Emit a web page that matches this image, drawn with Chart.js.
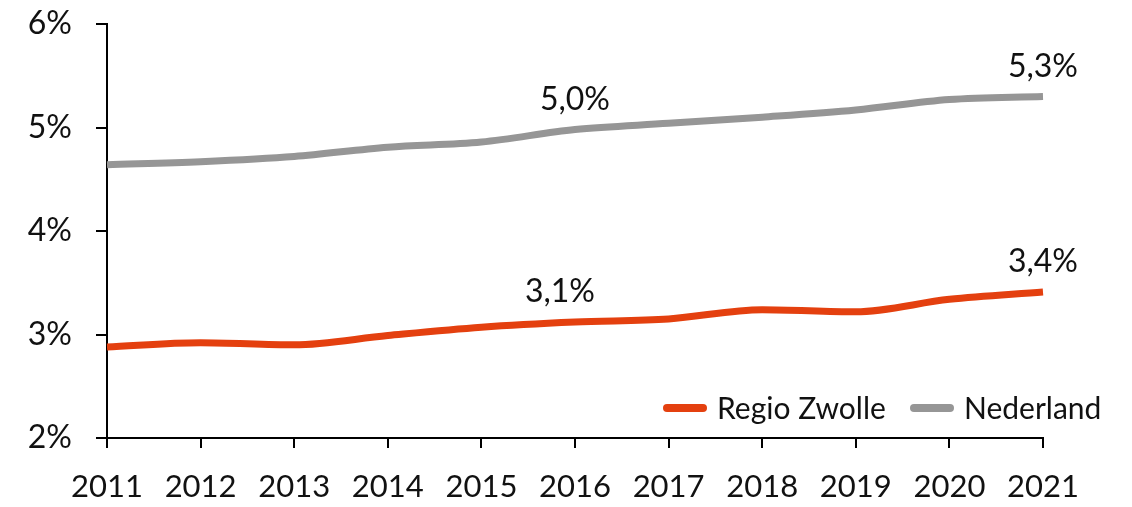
<!DOCTYPE html>
<html><head><meta charset="utf-8">
<script src="https://cdn.jsdelivr.net/npm/chart.js@4/dist/chart.umd.min.js"></script>
<style>html,body{margin:0;padding:0;background:#fff;}#wrap{width:1132px;height:507px;}</style>
</head><body><div id="wrap"><canvas id="c" width="1132" height="507"></canvas></div>
<script>
const years = ['2011','2012','2013','2014','2015','2016','2017','2018','2019','2020','2021'];
const regioZwolle = [2.88,2.92,2.90,2.99,3.07,3.12,3.15,3.24,3.22,3.34,3.41];
const nederland = [4.64,4.67,4.72,4.81,4.86,4.98,5.04,5.10,5.17,5.27,5.30];
const seriesNames = ['Regio Zwolle','Nederland'];
const seriesColors = ['#E4400F','#969696'];
const labelledIdx = [5,10];
const labelTexts = [['3,1%','3,4%'],['5,0%','5,3%']];
const FONT = 'Lato, "Open Sans", sans-serif';

const labelPlugin = {
  id:'labels',
  afterDatasetsDraw(chart){
    const ctx = chart.ctx;
    ctx.save();
    ctx.font = '32px ' + FONT;
    ctx.fillStyle = '#111';
    ctx.textAlign = 'center';
    ctx.textBaseline = 'middle';
    chart.data.datasets.forEach((ds,di)=>{
      const meta = chart.getDatasetMeta(di);
      labelledIdx.forEach((idx,k)=>{
        const p = meta.data[idx];
        const dx = (di===0 && k===0) ? -15 : 0;
        ctx.fillText(labelTexts[di][k], p.x + dx, p.y - 30);
      });
    });
    // legend
    ctx.font = '30px ' + FONT;
    ctx.textAlign = 'left';
    const ly = 408;
    const starts = [663, 910];
    chart.data.datasets.forEach((ds,di)=>{
      const x = starts[di];
      ctx.strokeStyle = ds.borderColor;
      ctx.lineWidth = 8;
      ctx.lineCap = 'round';
      ctx.beginPath(); ctx.moveTo(x+4, ly); ctx.lineTo(x+40, ly); ctx.stroke();
      ctx.fillStyle = '#111';
      ctx.fillText(ds.label, x+54, ly+1);
    });
    ctx.restore();
  }
};

new Chart(document.getElementById('c'), {
  type:'line',
  data:{
    labels: years,
    datasets:[
      {label:seriesNames[0], data:regioZwolle, borderColor:seriesColors[0], borderWidth:7, pointRadius:0, tension:0.35, cubicInterpolationMode:'monotone', borderCapStyle:'butt'},
      {label:seriesNames[1], data:nederland, borderColor:seriesColors[1], borderWidth:7, pointRadius:0, tension:0.35, cubicInterpolationMode:'monotone', borderCapStyle:'butt'}
    ]
  },
  options:{
    responsive:false,
    animation:false,
    layout:{padding:{top:24,right:89,bottom:0,left:0}},
    plugins:{legend:{display:false},tooltip:{enabled:false}},
    scales:{
      x:{
        offset:false,
        grid:{drawOnChartArea:false, drawTicks:true, tickLength:10, color:'#000', lineWidth:2},
        border:{color:'#000', width:2},
        ticks:{font:{family:FONT,size:31}, color:'#111', padding:20, maxRotation:0, autoSkip:false},
        afterFit(s){ s.height = 69; s.paddingLeft = 0; s.paddingRight = 0; }
      },
      y:{
        min:2, max:6,
        grid:{drawOnChartArea:false, drawTicks:true, tickLength:11, color:'#000', lineWidth:2},
        border:{color:'#000', width:2},
        ticks:{stepSize:1, font:{family:FONT,size:32}, color:'#111', padding:24, callback:v=>v+'%'},
        afterFit(s){ s.width = 107; s.paddingTop = 0; s.paddingBottom = 0; }
      }
    }
  },
  plugins:[labelPlugin]
});
</script></body></html>
